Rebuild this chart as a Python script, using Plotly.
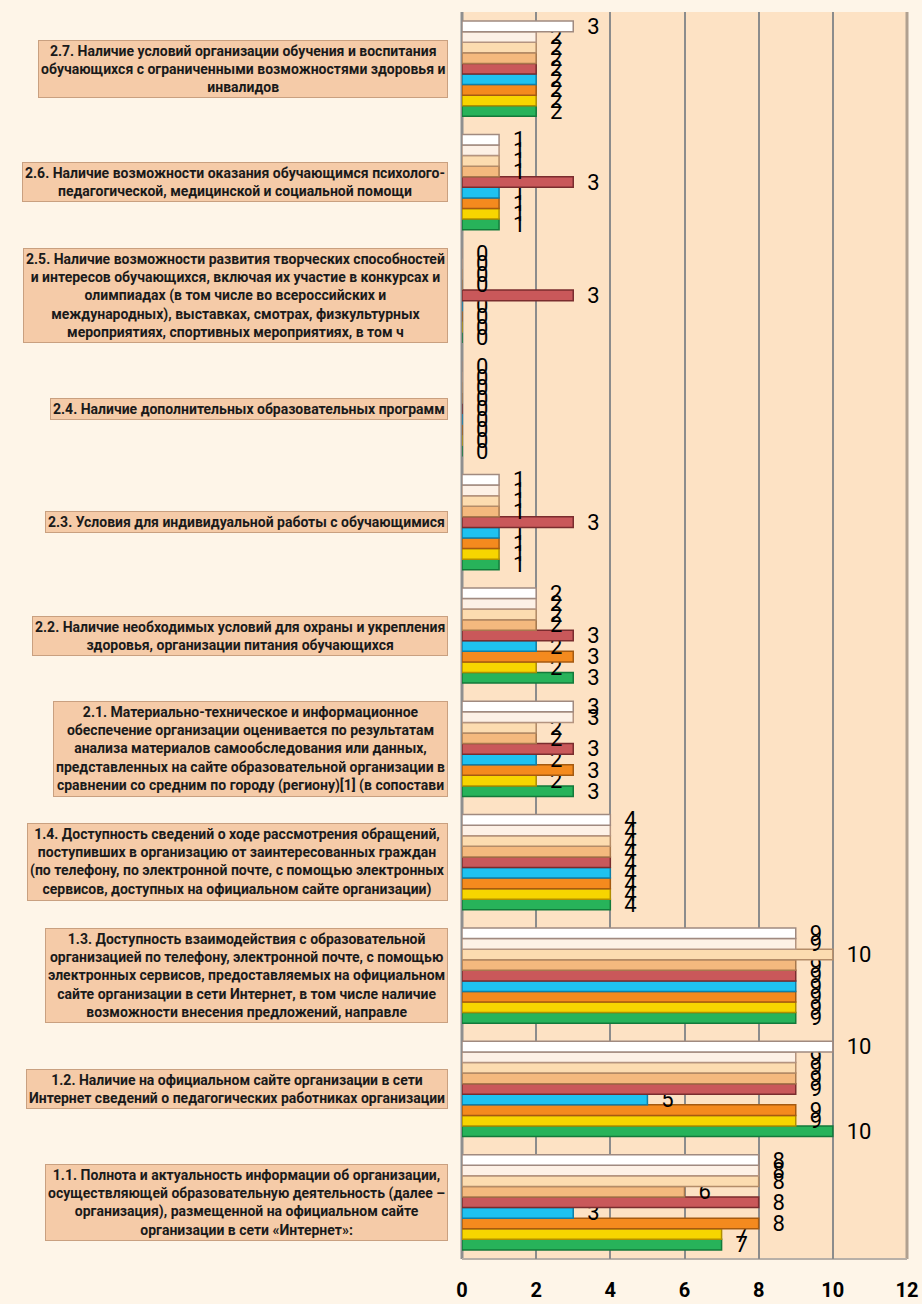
import plotly.graph_objects as go

# Categories (bottom -> top)
categories = ["1.1", "1.2", "1.3", "1.4", "2.1", "2.2", "2.3", "2.4", "2.5", "2.6", "2.7"]

category_labels = [
    "1.1. Полнота и актуальность информации об организации,<br>осуществляющей образовательную деятельность (далее –<br>организация), размещенной на официальном сайте<br>организации в сети «Интернет»:",
    "1.2. Наличие на официальном сайте организации в сети<br>Интернет сведений о педагогических работниках организации",
    "1.3. Доступность взаимодействия с образовательной<br>организацией по телефону, электронной почте, с помощью<br>электронных сервисов, предоставляемых на официальном<br>сайте организации в сети Интернет, в том числе наличие<br>возможности внесения предложений, направле",
    "1.4. Доступность сведений о ходе рассмотрения обращений,<br>поступивших в организацию от заинтересованных граждан<br>(по телефону, по электронной почте, с помощью электронных<br>сервисов, доступных на официальном сайте организации)",
    "2.1. Материально-техническое и информационное<br>обеспечение организации оценивается по результатам<br>анализа материалов самообследования или данных,<br>представленных на сайте образовательной организации в<br>сравнении со средним по городу (региону)[1] (в сопостави",
    "2.2. Наличие необходимых условий для охраны и укрепления<br>здоровья, организации питания обучающихся",
    "2.3. Условия для индивидуальной работы с обучающимися",
    "2.4. Наличие дополнительных образовательных программ",
    "2.5. Наличие возможности развития творческих способностей<br>и интересов обучающихся, включая их участие в конкурсах и<br>олимпиадах (в том числе во всероссийских и<br>международных), выставках, смотрах, физкультурных<br>мероприятиях, спортивных мероприятиях, в том ч",
    "2.6. Наличие возможности оказания обучающимся психолого-<br>педагогической, медицинской и социальной помощи",
    "2.7. Наличие условий организации обучения и воспитания<br>обучающихся с ограниченными возможностями здоровья и<br>инвалидов",
]

# Series values (bottom bar of each group -> top bar)
s1 = [7, 10, 9, 4, 3, 3, 1, 0, 0, 1, 2]
s2 = [7, 9, 9, 4, 2, 2, 1, 0, 0, 1, 2]
s3 = [8, 9, 9, 4, 3, 3, 1, 0, 0, 1, 2]
s4 = [3, 5, 9, 4, 2, 2, 1, 0, 0, 1, 2]
s5 = [8, 9, 9, 4, 3, 3, 3, 0, 3, 3, 2]
s6 = [6, 9, 9, 4, 2, 2, 1, 0, 0, 1, 2]
s7 = [8, 9, 10, 4, 2, 2, 1, 0, 0, 1, 2]
s8 = [8, 9, 9, 4, 3, 2, 1, 0, 0, 1, 2]
s9 = [8, 10, 9, 4, 3, 2, 1, 0, 0, 1, 3]

series = [s1, s2, s3, s4, s5, s6, s7, s8, s9]
series_names = ["Ряд 1", "Ряд 2", "Ряд 3", "Ряд 4", "Ряд 5", "Ряд 6", "Ряд 7", "Ряд 8", "Ряд 9"]
fills = ["#27b35a", "#f7d500", "#f48a1e", "#1fc2f0", "#c9585a", "#f4b97e", "#fcdcb0", "#fdf1e6", "#ffffff"]
edges = ["#137a3a", "#b08f00", "#a55a10", "#0f7fa8", "#7a2c2e", "#a8784c", "#b48c68", "#b49480", "#a08a80"]

x_ticks = [0, 2, 4, 6, 8, 10, 12]

fig = go.Figure()
for vals, name, fc, ec in zip(series, series_names, fills, edges):
    fig.add_trace(go.Bar(
        y=categories, x=vals, name=name, orientation="h",
        marker=dict(color=fc, line=dict(color=ec, width=1.5)),
        text=vals, texttemplate="\u00a0\u00a0%{x}", textposition="outside",
        constraintext="none", cliponaxis=False,
        textfont=dict(family="Roboto", size=22, color="#000000"),
    ))

annotations = []
for i, lab in enumerate(category_labels):
    annotations.append(dict(
        x=-0.0315, xref="paper", y=i, yref="y", xanchor="right", yanchor="middle",
        text=lab, showarrow=False, align="center",
        font=dict(family="Roboto", size=14, color="#1a1a1a", weight="bold"),
        bgcolor="#f5cba8", bordercolor="#c9a080", borderwidth=1, borderpad=2,
    ))

shapes = [
    dict(type="line", xref="paper", yref="paper", x0=0, x1=0, y0=0, y1=1,
         line=dict(color="#8f8f8f", width=3), layer="below"),
    dict(type="line", xref="paper", yref="paper", x0=1, x1=1, y0=0, y1=1,
         line=dict(color="#b0a090", width=3), layer="below"),
    dict(type="line", xref="paper", yref="paper", x0=0, x1=1, y0=0, y1=0,
         line=dict(color="#b8b0a8", width=2), layer="below"),
]

fig.update_layout(
    width=922, height=1304,
    margin=dict(l=462, r=15, t=12, b=45),
    paper_bgcolor="#fef5e8", plot_bgcolor="#fde2c4",
    barmode="group", bargap=0.16, bargroupgap=0,
    showlegend=False,
    annotations=annotations, shapes=shapes,
    xaxis=dict(range=[0, 12], tickvals=x_ticks, ticktext=[str(t) for t in x_ticks],
               showgrid=True, gridcolor="#8c8c8c", gridwidth=1.5,
               zeroline=False, showline=False, ticks="",
               ticklabelstandoff=17, automargin=False,
               tickfont=dict(family="Roboto", size=20, color="#000000", weight="bold")),
    yaxis=dict(type="category", categoryorder="array", categoryarray=categories,
               showticklabels=False, showgrid=False, zeroline=False, automargin=False),
)

fig.write_html(
    "out.html",
    config={"displayModeBar": False},
    post_script="document.body.style.margin='0px';document.body.style.background='#fef5e8';",
)
